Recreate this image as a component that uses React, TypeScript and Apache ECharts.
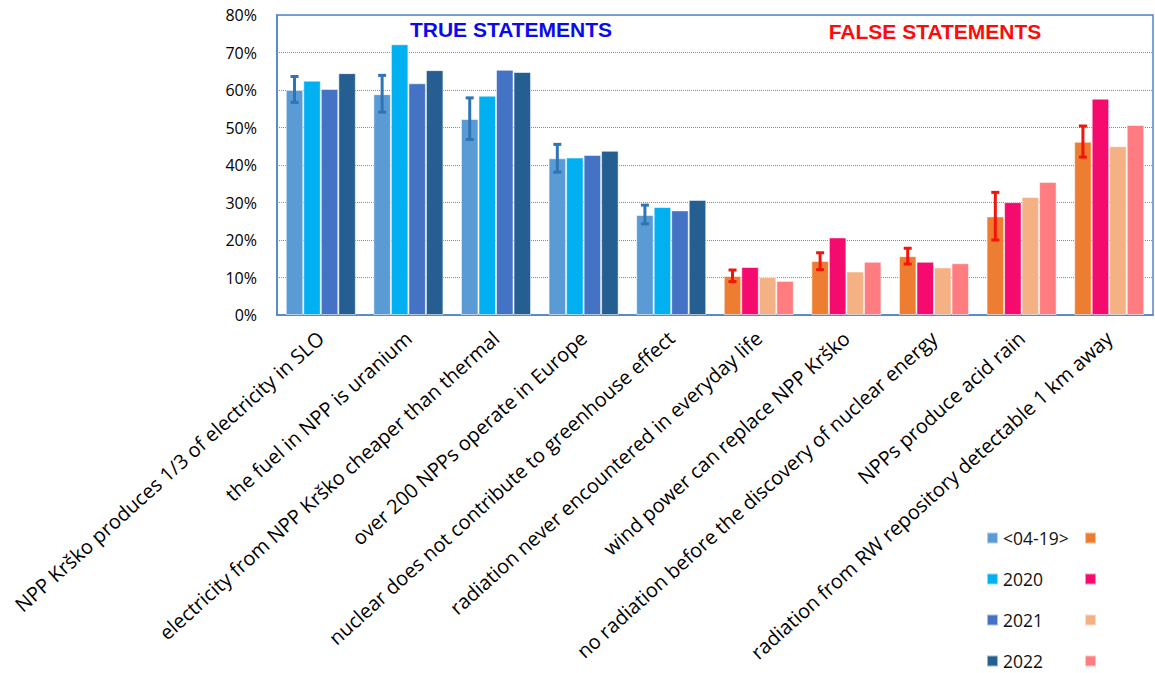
import React, { useEffect, useRef } from "react";
import * as echarts from "echarts";

const categories = [
  "NPP Krško produces 1/3 of electricity in SLO",
  "the fuel in NPP is uranium",
  "electricity from NPP Krško cheaper than thermal",
  "over 200 NPPs operate in Europe",
  "nuclear does not contribute to greenhouse effect",
  "radiation never encountered in everyday life",
  "wind power can replace NPP Krško",
  "no radiation before the discovery of nuclear energy",
  "NPPs produce acid rain",
  "radiation from RW repository detectable 1 km away",
];
const trueCount = 5;
const seriesNames = ["<04-19>", "2020", "2021", "2022"];
const v0419 = [60.0, 58.9, 52.3, 41.8, 26.7, 10.4, 14.4, 15.7, 26.3, 46.2];
const v2020 = [62.5, 72.2, 58.5, 42.0, 28.8, 12.8, 20.7, 14.2, 30.1, 57.7];
const v2021 = [60.3, 61.8, 65.4, 42.7, 27.9, 10.1, 11.6, 12.7, 31.5, 45.0];
const v2022 = [64.5, 65.3, 64.8, 43.8, 30.7, 9.1, 14.2, 13.8, 35.5, 50.7];
const errLow = [56.7, 54.1, 46.8, 38.1, 24.3, 8.9, 12.1, 13.6, 20.0, 42.1];
const errHigh = [63.6, 63.9, 57.9, 45.5, 29.3, 12.0, 16.6, 17.8, 32.7, 50.4];
const yTicks = [0, 10, 20, 30, 40, 50, 60, 70, 80];

const trueColors = ["#5b9bd5", "#00b0f0", "#4472c4", "#255e91"];
const falseColors = ["#ed7d31", "#f50a6e", "#f4b183", "#ff7c80"];
const errTrueColor = "#2e75b6";
const errFalseColor = "#f5140a";

export default function App() {
  const ref = useRef<HTMLDivElement>(null);
  useEffect(() => {
    if (!ref.current) return;
    const chart = echarts.init(ref.current, null, { renderer: "svg" });
    const allValues = [v0419, v2020, v2021, v2022];
    const font = "'Open Sans', sans-serif";

    const barSeries: any[] = [];
    allValues.forEach((vals, i) => {
      barSeries.push({
        name: seriesNames[i],
        type: "bar",
        stack: "s" + i,
        data: vals.map((v, k) => (k < trueCount ? v : null)),
        itemStyle: { color: trueColors[i], borderColor: "rgba(255,255,255,0.55)", borderWidth: 1 },
        barGap: "0%",
        barCategoryGap: "20%",
      });
    });
    allValues.forEach((vals, i) => {
      barSeries.push({
        name: seriesNames[i] + " ",
        type: "bar",
        stack: "s" + i,
        data: vals.map((v, k) => (k >= trueCount ? v : null)),
        itemStyle: { color: falseColors[i], borderColor: "rgba(255,255,255,0.55)", borderWidth: 1 },
        barGap: "0%",
        barCategoryGap: "20%",
      });
    });

    const errData = categories.map((_, k) => [k, errLow[k], errHigh[k]]);

    const legendCommon = {
      orient: "vertical",
      top: 527,
      height: 160,
      itemWidth: 11,
      itemHeight: 11,
      itemGap: 19,
      icon: "rect",
      selectedMode: false,
      padding: 0,
      textStyle: { fontFamily: font, fontSize: 17.5, color: "#111", lineHeight: 22, height: 22 },
    };

    const option: any = {
      animation: false,
      grid: {
        left: 277,
        right: 2,
        top: 15,
        bottom: 358,
        show: true,
        borderColor: "#4f86c6",
        borderWidth: 1.5,
        containLabel: false,
        outerBoundsMode: "none",
      },
      title: [
        {
          text: "TRUE STATEMENTS",
          left: 506,
          top: 14,
          textAlign: "center",
          textStyle: { color: "#0a0aee", fontFamily: "'Liberation Sans', Arial, sans-serif", fontWeight: "bold", fontSize: 21 },
        },
        {
          text: "FALSE STATEMENTS",
          left: 930,
          top: 16,
          textAlign: "center",
          textStyle: { color: "#ff0a0a", fontFamily: "'Liberation Sans', Arial, sans-serif", fontWeight: "bold", fontSize: 21 },
        },
      ],
      legend: [
        { ...legendCommon, data: seriesNames, left: 986 },
        { ...legendCommon, data: seriesNames.map((n) => n + " "), left: 1084, formatter: () => " " },
      ],
      xAxis: {
        type: "category",
        data: categories,
        axisLine: { lineStyle: { color: "#4f86c6", width: 1.5 } },
        axisTick: { show: false },
        axisLabel: {
          interval: 0,
          rotate: 42,
          margin: 20,
          fontFamily: font,
          fontSize: 20,
          color: "#000",
        },
      },
      yAxis: {
        type: "value",
        min: 0,
        max: 80,
        interval: 10,
        axisLine: { show: true, lineStyle: { color: "#4f86c6", width: 1.5 } },
        axisTick: { show: false },
        splitLine: { lineStyle: { color: "#8c8c8c", type: "dotted", width: 1 } },
        axisLabel: {
          formatter: (v: number) => (yTicks.includes(v) ? v + "%" : ""),
          margin: 20,
          fontFamily: font,
          fontSize: 16,
          color: "#000",
        },
      },
      series: [
        ...barSeries,
        {
          type: "custom",
          name: "err",
          data: errData,
          z: 10,
          renderItem: (params: any, api: any) => {
            const idx = api.value(0);
            const lo = api.coord([idx, api.value(1)]);
            const hi = api.coord([idx, api.value(2)]);
            const band = api.size([1, 0])[0];
            const x = lo[0] - band * 0.3;
            const color = idx < trueCount ? errTrueColor : errFalseColor;
            const cap = 4;
            const style = { stroke: color, lineWidth: 3 };
            return {
              type: "group",
              children: [
                { type: "line", shape: { x1: x, y1: hi[1], x2: x, y2: lo[1] }, style },
                { type: "line", shape: { x1: x - cap, y1: hi[1], x2: x + cap, y2: hi[1] }, style },
                { type: "line", shape: { x1: x - cap, y1: lo[1], x2: x + cap, y2: lo[1] }, style },
              ],
            };
          },
        },
      ],
    };
    chart.setOption(option);
    return () => chart.dispose();
  }, []);
  return (
    <div
      ref={ref}
      style={{ position: "fixed", left: 0, top: 0, width: 1155, height: 673, background: "#fff" }}
    />
  );
}
